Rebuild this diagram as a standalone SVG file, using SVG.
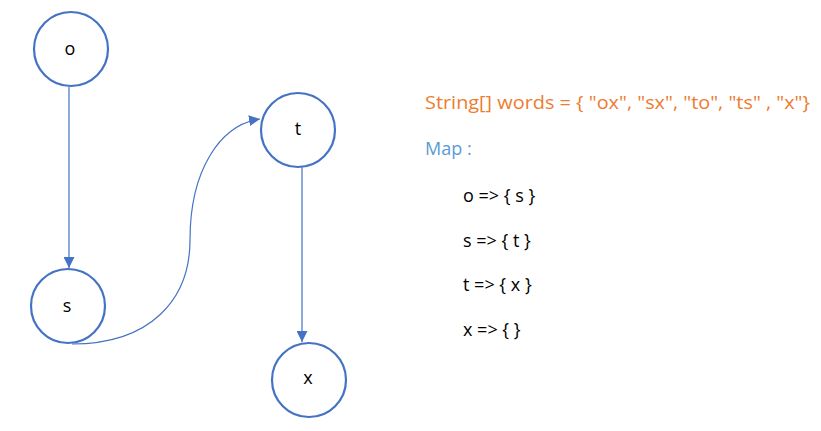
<svg xmlns="http://www.w3.org/2000/svg" width="821" height="431" viewBox="0 0 821 431">
<defs>
<style>
.node{fill:#fff;stroke:#4472C4;stroke-width:2.2}
.lbl{font-family:"Open Sans","Liberation Sans",sans-serif;font-size:18px;fill:#000;text-anchor:middle;dominant-baseline:central}
.edge{fill:none;stroke:#4472C4;stroke-width:1.2}
.txt{font-family:"Open Sans","Liberation Sans",sans-serif;font-size:18px}
</style>
<marker id="ah" viewBox="0 0 10 10" refX="10" refY="5" markerWidth="11" markerHeight="11" markerUnits="userSpaceOnUse" orient="auto">
<path d="M0,0 L10,5 L0,10 z" fill="#4472C4"/>
</marker>
</defs>
<rect width="821" height="431" fill="#fff"/>
<g id="connectors">
<line class="edge" x1="69" y1="87" x2="69" y2="268" marker-end="url(#ah)"/>
<line class="edge" x1="302" y1="167" x2="302" y2="342" marker-end="url(#ah)"/>
<path class="edge" d="M72,344 C150,344 190,300 190,240 C190,170 220,125 260,119" marker-end="url(#ah)"/>
</g>
<g id="node-o"><circle class="node" cx="71" cy="49" r="37"/><text class="lbl" x="70" y="48">o</text></g>
<g id="node-s"><circle class="node" cx="68" cy="306" r="37"/><text class="lbl" x="67" y="305">s</text></g>
<g id="node-t"><circle class="node" cx="298" cy="130" r="37"/><text class="lbl" x="298" y="128">t</text></g>
<g id="node-x"><circle class="node" cx="309" cy="380" r="37"/><text class="lbl" x="308" y="377">x</text></g>
<g id="text">
<text class="txt" x="425" y="109" fill="#ED7D31" textLength="385" lengthAdjust="spacingAndGlyphs">String[] words = { "ox", "sx", "to", "ts" , "x"}</text>
<text class="txt" x="425" y="155" fill="#5B9BD5">Map :</text>
<text class="txt" x="463" y="202" fill="#000">o =&gt; { s }</text>
<text class="txt" x="463" y="247" fill="#000">s =&gt; { t }</text>
<text class="txt" x="463" y="291" fill="#000">t =&gt; { x }</text>
<text class="txt" x="463" y="336" fill="#000">x =&gt; { }</text>
</g>
</svg>
